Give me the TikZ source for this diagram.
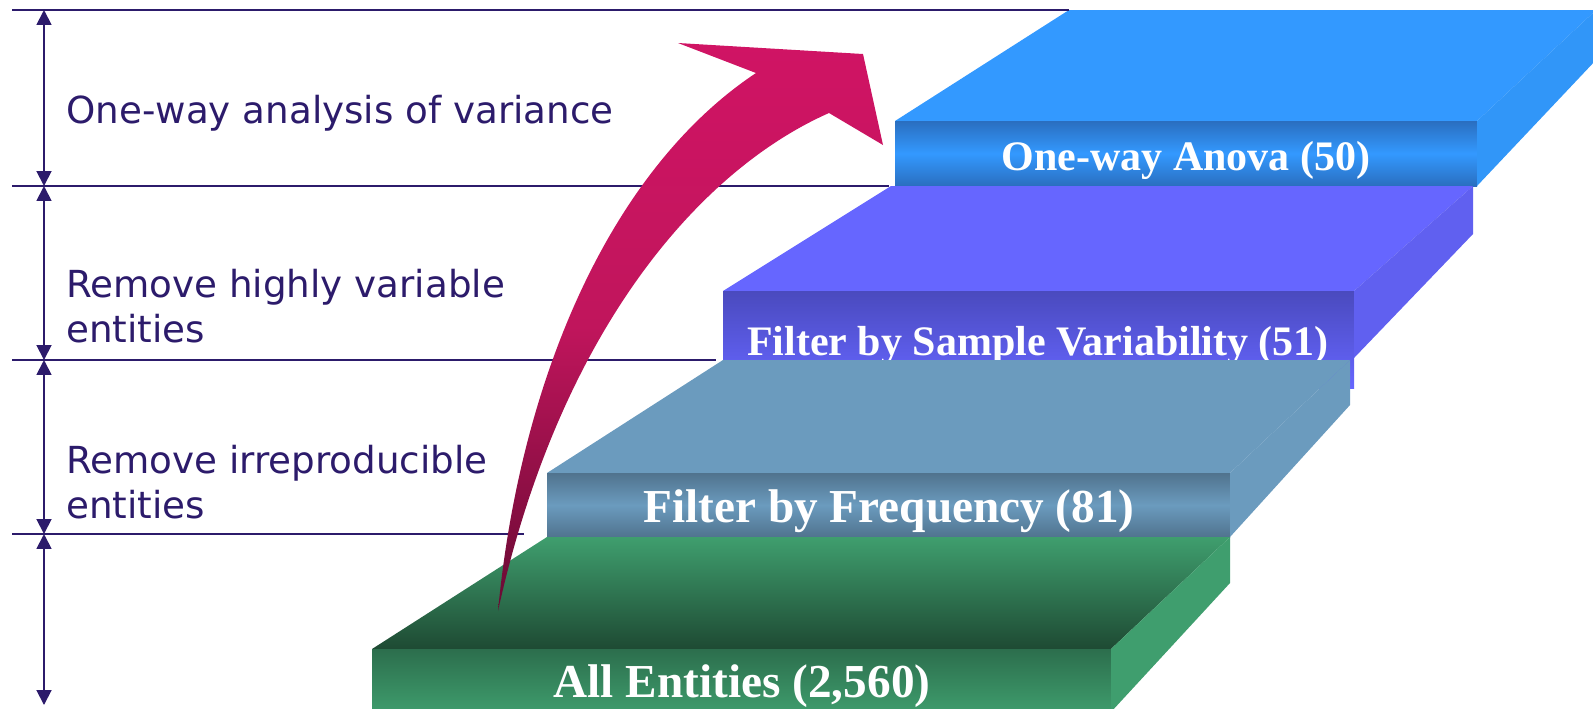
\documentclass[tikz,border=0pt]{standalone}
\usepackage{fontspec}
\usetikzlibrary{arrows.meta}
\newfontfamily\labelfont{DejaVu Sans}
\newfontfamily\slabfont{Liberation Serif}
\definecolor{ink}{RGB}{44,27,107}
\definecolor{greenTop}{RGB}{63,158,110}
\definecolor{greenDark}{RGB}{30,74,51}
\definecolor{greenMid}{RGB}{44,110,77}
\definecolor{steelTop}{RGB}{107,155,190}
\definecolor{steelDark}{RGB}{80,115,142}
\definecolor{purpTop}{RGB}{102,102,255}
\definecolor{purpDark}{RGB}{74,74,190}
\definecolor{purpSide}{RGB}{96,96,240}
\definecolor{blueTop}{RGB}{51,153,255}
\definecolor{blueDark}{RGB}{42,110,191}
\definecolor{blueSide}{RGB}{49,150,248}
\definecolor{arrTop}{RGB}{208,20,100}
\definecolor{arrMid}{RGB}{192,21,92}
\definecolor{arrBot}{RGB}{104,10,51}

\begin{document}
\begin{tikzpicture}[x=0.02cm,y=-0.02cm,
	level/.style={ink,line width=1.1pt},
	span/.style={ink,line width=1.1pt,{Triangle[length=8.5pt,width=8.5pt]}-{Triangle[length=8.5pt,width=8.5pt]}},
	note/.style={anchor=base west,inner sep=0pt,text=ink,align=left,font=\labelfont\fontsize{21.2}{25.4}\selectfont},
	steptext/.style={anchor=base,inner sep=0pt,text=white,font=\slabfont\bfseries\fontsize{26.9}{30}\selectfont},
	smalltext/.style={steptext,font=\slabfont\bfseries\fontsize{23.9}{28}\selectfont}]
	\useasboundingbox (0,0) rectangle (1593,708);
	\clip (0,0) rectangle (1593,708);
	% top step
	\fill[blueTop] (895,121) -- (1069,10) -- (1596,10) -- (1477,121) -- cycle;
	\shade[top color=blueDark,bottom color=blueDark,middle color=blueTop] (895,121) rectangle (1477,186);
	\fill[blueSide] (1477,121) -- (1596,10) -- (1596,60) -- (1477,186) -- cycle;
	\node[smalltext] (anova) at (1186,170) {One-way Anova (50)};
	% third step
	\fill[purpTop] (723,291) -- (891,186) -- (1473,186) -- (1354,291) -- cycle;
	\shade[top color=purpDark,bottom color=purpTop] (723,291) rectangle (1354,388);
	\fill[purpSide] (1354,291) -- (1473,186) -- (1473,234) -- (1354,358) -- cycle;
	\node[smalltext] (sample) at (1038,355) {Filter by Sample Variability (51)};
	% second step
	\fill[steelTop] (547,473) -- (723,360) -- (1350,360) -- (1230,473) -- cycle;
	\shade[top color=steelDark,bottom color=steelDark,middle color=steelTop] (547,473) rectangle (1230,537);
	\fill[steelTop] (1230,473) -- (1350,360) -- (1350,405) -- (1230,537) -- cycle;
	\node[steptext] (freq) at (889,522) {Filter by Frequency (81)};
	% bottom step
	\shade[top color=greenTop,bottom color=greenDark] (372,649) -- (547,537) -- (1230,537) -- (1111,649) -- cycle;
	\shade[top color=greenMid,bottom color=greenTop] (372,649) rectangle (1111,715);
	\fill[greenTop] (1111,649) -- (1230,537) -- (1230,583) -- (1111,712) -- cycle;
	\node[steptext] (all) at (742,697) {All Entities (2,560)};
	% levels
	\coordinate (a0) at (12,10);  \coordinate (b0) at (1069,10);
	\coordinate (a1) at (12,186); \coordinate (b1) at (889,186);
	\coordinate (a2) at (12,360); \coordinate (b2) at (716,360);
	\coordinate (a3) at (12,534); \coordinate (b3) at (524,534);
	\draw[level] (a0) -- (b0);
	\draw[level] (a1) -- (b1);
	\draw[level] (a2) -- (b2);
	\draw[level] (a3) -- (b3);
	\coordinate (t0) at (44,10);
	\coordinate (t1) at (44,186);
	\coordinate (t2) at (44,360);
	\coordinate (t3) at (44,534);
	\coordinate (t4) at (44,705);
	\draw[span] (t0) -- (t1);
	\draw[span] (t1) -- (t2);
	\draw[span] (t2) -- (t3);
	\draw[span] (t3) -- (t4);
	\node[note] (anovaNote) at (66,123) {One-way analysis of variance};
	\node[note] (sampleNote) at (66,342) {Remove highly variable\\entities};
	\node[note] (freqNote) at (66,518) {Remove irreproducible\\entities};
	% big arrow
	\shade[top color=arrTop,bottom color=arrBot,middle color=arrMid]
		(498,611) .. controls (520,380) and (610,170) .. (756,73) -- (678,43) -- (863,54)
		-- (883,145) -- (829,113) .. controls (700,170) and (560,330) .. (498,611) -- cycle;
\end{tikzpicture}
\end{document}
